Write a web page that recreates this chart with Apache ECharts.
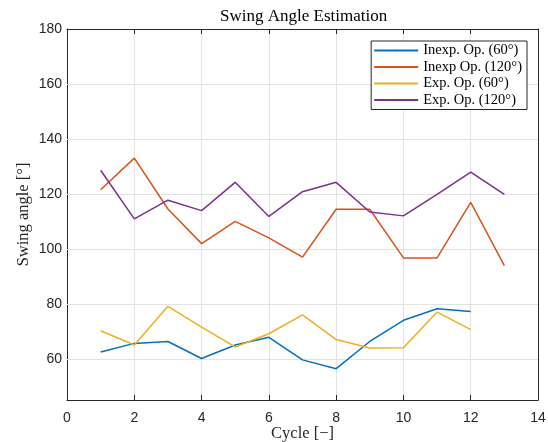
<!DOCTYPE html>
<html>
<head>
<meta charset="utf-8">
<script src="https://cdn.jsdelivr.net/npm/echarts@6/dist/echarts.min.js"></script>
<style>
    html, body { margin: 0; padding: 0; background: #fff; }
    #chart { width: 548px; height: 442px; }
</style>
</head>
<body>
<div id="chart"></div>
<script>
    // cycle numbers
    var cycles = [1, 2, 3, 4, 5, 6, 7, 8, 9, 10, 11, 12, 13];
    // swing angle values
    var inexp60 = [62.5, 65.6, 66.3, 60.1, 65.0, 67.8, 59.6, 56.4, 66.3, 74.0, 78.2, 77.2];
    var inexp120 = [121.5, 133.0, 114.5, 101.9, 110.0, 104.0, 97.0, 114.4, 114.4, 96.7, 96.7, 116.9, 93.9];
    var exp60 = [70.2, 65.0, 79.1, 71.5, 64.3, 69.1, 76.0, 67.0, 63.9, 64.0, 77.0, 70.6];
    var exp120 = [128.6, 110.9, 117.7, 113.9, 124.2, 111.8, 120.8, 124.2, 113.4, 112.0, 119.8, 127.9, 119.8];
    var yTicks = [60, 80, 100, 120, 140, 160, 180];
    var names = ['Inexp. Op. (60°)', 'Inexp Op. (120°)', 'Exp. Op. (60°)', 'Exp. Op. (120°)'];
    var colors = ['#0072BD', '#D95319', '#EDB120', '#7E2F8E'];

    function pairs(vals) {
        return vals.map(function (v, i) { return [cycles[i], v]; });
    }

    var serif = 'Liberation Serif';
    var sans = 'Liberation Sans';
    var axisCol = '#262626';

    var chart = echarts.init(document.getElementById('chart'));

    var baseX = {
        type: 'value', min: 0, max: 14, interval: 2,
        axisLine: { show: true, onZero: false, lineStyle: { color: axisCol, width: 1 } },
        axisTick: { show: true, inside: true, length: 5, lineStyle: { color: axisCol } },
        splitLine: { show: true, lineStyle: { color: '#e3e3e3', width: 1 } }
    };
    var baseY = {
        type: 'value', min: 45, max: 180,
        axisLine: { show: true, onZero: false, lineStyle: { color: axisCol, width: 1 } },
        axisTick: { show: true, inside: true, length: 5, lineStyle: { color: axisCol }, customValues: yTicks },
        splitLine: { show: false }
    };

    var series = [inexp60, inexp120, exp60, exp120].map(function (vals, i) {
        return {
            name: names[i],
            type: 'line',
            data: pairs(vals),
            symbol: 'none',
            showSymbol: false,
            lineStyle: { width: 1.5, color: colors[i] },
            itemStyle: { color: colors[i] },
            z: 3
        };
    });
    // horizontal grid lines at the labelled ticks
    series.push({
        type: 'line',
        data: [],
        silent: true,
        z: 1,
        markLine: {
            silent: true,
            z: 1,
            symbol: 'none',
            label: { show: false },
            lineStyle: { color: '#e3e3e3', width: 1, type: 'solid' },
            data: yTicks.slice(0, 6).map(function (v) { return { yAxis: v }; })
        }
    });

    chart.setOption({
        animation: false,
        title: {
            text: 'Swing Angle Estimation',
            left: 215,
            top: 3,
            textStyle: { fontFamily: serif, fontWeight: 'normal', fontSize: 17, color: '#000' }
        },
        legend: {
            data: names,
            orient: 'vertical',
            right: 21,
            top: 41,
            itemWidth: 44,
            itemHeight: 2,
            itemGap: 1.5,
            padding: [2, 5, 2, 2],
            borderColor: '#262626',
            borderWidth: 1,
            backgroundColor: '#fff',
            borderRadius: 0,
            z: 10,
            textStyle: { fontFamily: serif, fontSize: 14.5, color: '#000', lineHeight: 15 }
        },
        grid: { left: 67, right: 10, top: 29, bottom: 42, containLabel: false, outerBoundsMode: 'none' },
        xAxis: [
            Object.assign({}, baseX, {
                position: 'bottom',
                name: 'Cycle [−]',
                nameLocation: 'middle',
                nameGap: 25,
                nameMoveOverlap: false,
                nameTextStyle: { fontFamily: serif, fontSize: 16.5, color: axisCol },
                axisLabel: { fontFamily: sans, fontSize: 14, color: axisCol, margin: 11 }
            }),
            Object.assign({}, baseX, {
                position: 'top',
                splitLine: { show: false },
                axisLabel: { show: false }
            })
        ],
        yAxis: [
            Object.assign({}, baseY, {
                position: 'left',
                name: 'Swing angle [°]',
                nameLocation: 'middle',
                nameGap: 35,
                nameMoveOverlap: false,
                nameTextStyle: { fontFamily: serif, fontSize: 16.5, color: axisCol },
                axisLabel: { customValues: yTicks, fontFamily: sans, fontSize: 14, color: axisCol, margin: 5 }
            }),
            Object.assign({}, baseY, {
                position: 'right',
                axisLabel: { show: false }
            })
        ],
        series: series
    });
</script>
</body>
</html>
